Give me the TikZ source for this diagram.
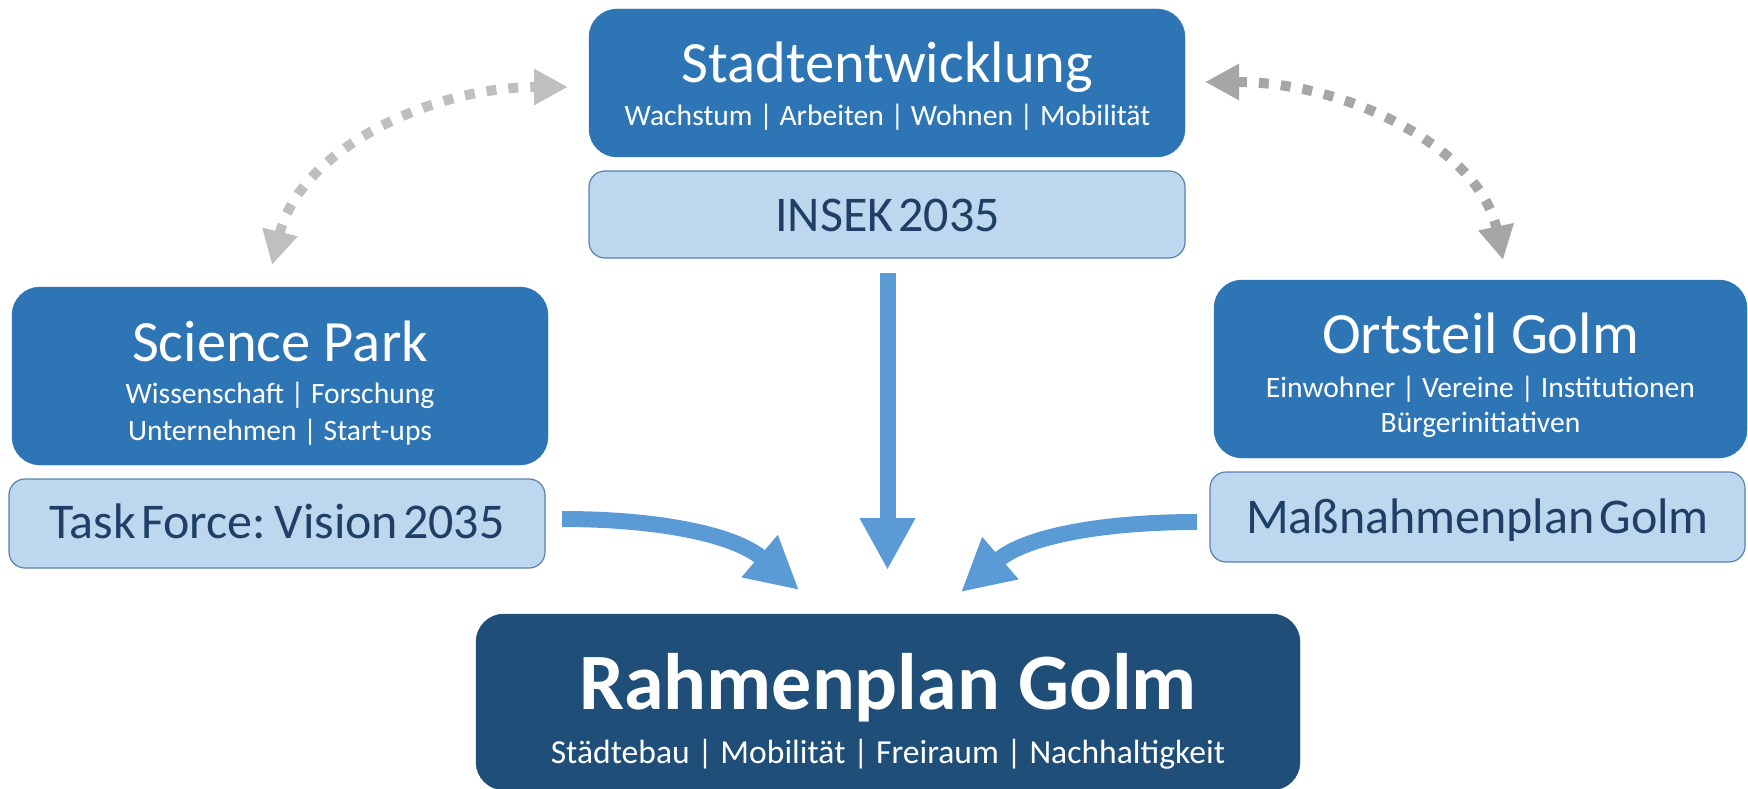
\documentclass[tikz,border=0pt]{standalone}
\usepackage{fontspec}
\setmainfont{Carlito}
\newfontfamily\tightfont[WordSpace=0.45]{Carlito}
\usetikzlibrary{arrows.meta}
\definecolor{boxdark}{HTML}{2E75B6}
\definecolor{boxlight}{HTML}{BDD7EE}
\definecolor{borderlight}{HTML}{5A82AE}
\definecolor{boxnavy}{HTML}{1F4E79}
\definecolor{textnavy}{HTML}{1F3F66}
\definecolor{arrowblue}{HTML}{5B9BD5}
\definecolor{grayone}{HTML}{BFBFBF}
\definecolor{graytwo}{HTML}{A6A6A6}
\begin{document}
\begin{tikzpicture}[x=1pt,y=-1pt,
  mainbox/.style={fill=boxdark, draw=boxdark, rounded corners=28pt, inner sep=0pt},
  subbox/.style={fill=boxlight, draw=borderlight, line width=1.2pt, rounded corners=16pt, inner sep=0pt},
  keybox/.style={fill=boxnavy, draw=boxnavy, rounded corners=28pt, inner sep=0pt},
  titletext/.style={anchor=base, text=white, inner sep=0pt, font=\fontsize{58.5pt}{60pt}\selectfont},
  subtext/.style={anchor=base, text=white, inner sep=0pt, font=\fontsize{29.6pt}{32pt}\selectfont},
  lighttext/.style={anchor=base, text=textnavy, inner sep=0pt, font=\tightfont\fontsize{50pt}{52pt}\selectfont},
  flowarrow/.style={draw=arrowblue, line width=16pt, -{Triangle[length=52pt,width=52pt]}},
  linkarrow/.style={line width=10pt, dash pattern=on 10pt off 12pt,
     {Triangle[length=34pt,width=34pt]}-{Triangle[length=34pt,width=34pt]}}
]
\path[use as bounding box] (0,0) rectangle (1748,789);

% boxes
\node[mainbox, minimum width=596pt, minimum height=148pt] (stadt) at (887,83) {};
\node[subbox, minimum width=596pt, minimum height=87pt] (insek) at (887,214.5) {};
\node[mainbox, minimum width=536pt, minimum height=178pt] (sp) at (280,376) {};
\node[subbox, minimum width=536pt, minimum height=89pt] (task) at (277,523.5) {};
\node[mainbox, minimum width=533pt, minimum height=178pt] (ort) at (1480.5,369) {};
\node[subbox, minimum width=535pt, minimum height=90pt] (mass) at (1477.5,517) {};
\node[keybox, minimum width=824pt, minimum height=176pt] (rahmen) at (888,702) {};

% texts
\node[titletext] (stadtT) at (887.5,83) {Stadtentwicklung};
\node[subtext] (stadtS) at (887.5,126) {Wachstum | Arbeiten | Wohnen | Mobilität};
\node[lighttext] (insekT) at (887.5,231) {INSEK 2035};

\node[titletext] (spT) at (280,361) {Science Park};
\node[subtext] (spS1) at (280,403) {Wissenschaft | Forschung};
\node[subtext] (spS2) at (280,440) {Unternehmen | Start-ups};
\node[lighttext] (taskT) at (277,538) {Task Force: Vision 2035};

\node[titletext] (ortT) at (1480.5,353) {Ortsteil Golm};
\node[subtext] (ortS1) at (1480.5,397) {Einwohner | Vereine | Institutionen};
\node[subtext] (ortS2) at (1480.5,432) {Bürgerinitiativen};
\node[lighttext] (massT) at (1477.5,533) {Maßnahmenplan Golm};

\node[anchor=base, text=white, inner sep=0pt, font=\bfseries\fontsize{80pt}{82pt}\selectfont] (rahmenT) at (888,709) {Rahmenplan Golm};
\node[anchor=base, text=white, inner sep=0pt, font=\fontsize{33.6pt}{36pt}\selectfont] (rahmenS) at (888,763) {Städtebau | Mobilität | Freiraum | Nachhaltigkeit};

% flow arrows
\coordinate (cTop) at (887.5,273);
\coordinate (cTip) at (887.5,570);
\coordinate (lStart) at (562,519);
\coordinate (lTip) at (799,590);
\coordinate (rStart) at (1197,522);
\coordinate (rTip) at (961,592);
\draw[flowarrow] (cTop) -- (cTip);
\draw[flowarrow] (lStart) .. controls (660,519) and (735,535) .. (lTip);
\draw[flowarrow] (rStart) .. controls (1100,522) and (1025,537) .. (rTip);

% dotted link arrows
\coordinate (dl1) at (272,265);
\coordinate (dl2) at (568,87);
\coordinate (dr1) at (1205,82);
\coordinate (dr2) at (1503,260);
\draw[linkarrow, draw=grayone] (dl1) .. controls (300,150) and (430,87) .. (dl2);
\draw[linkarrow, draw=graytwo] (dr1) .. controls (1350,82) and (1480,150) .. (dr2);
\end{tikzpicture}
\end{document}
